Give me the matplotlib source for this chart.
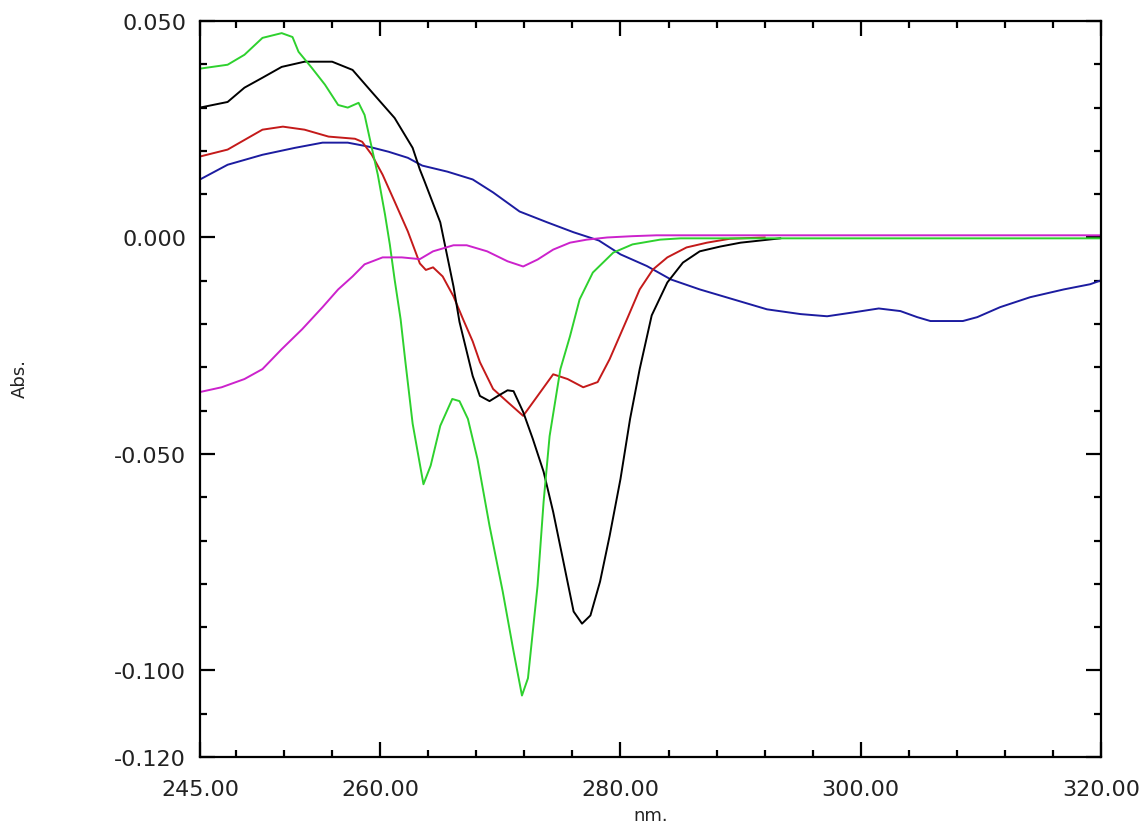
import matplotlib
matplotlib.use("Agg")
import matplotlib.pyplot as plt
from matplotlib.ticker import FixedLocator, FixedFormatter

# Difference spectra (wavelength in nm, absorbance)
black_wl = [245.0, 247.3, 248.7, 250.2, 251.8, 253.7, 256.0, 257.7, 259.3, 261.2,
            262.7, 263.3, 263.7, 265.0, 266.1, 266.6, 267.7, 268.3, 269.1, 269.8,
            270.6, 271.1, 271.9, 272.7, 273.6, 274.4, 275.2, 276.1, 276.8, 277.5,
            278.3, 279.1, 280.0, 280.8, 281.6, 282.6, 283.9, 285.2, 286.6, 288.3,
            290.0, 291.0, 293.3]
black_abs = [0.0300, 0.0313, 0.0346, 0.0369, 0.0394, 0.0406, 0.0406, 0.0387, 0.0336, 0.0276,
             0.0207, 0.0157, 0.0129, 0.0035, -0.0113, -0.0195, -0.0320, -0.0366, -0.0378, -0.0366,
             -0.0353, -0.0355, -0.0403, -0.0465, -0.0541, -0.0634, -0.0742, -0.0864, -0.0892, -0.0873,
             -0.0795, -0.0689, -0.0558, -0.0419, -0.0304, -0.0180, -0.0104, -0.0058, -0.0032, -0.0021,
             -0.0012, -0.0009, -0.0002]

red_wl = [245.0, 247.3, 249.0, 250.2, 251.9, 253.7, 255.7, 257.9, 258.5, 259.3,
          260.2, 261.2, 262.3, 263.3, 263.8, 264.4, 265.2, 266.1, 266.9, 267.7,
          268.3, 269.4, 270.6, 271.9, 273.1, 274.4, 275.6, 276.9, 278.1, 279.1,
          280.6, 281.6, 282.7, 283.9, 285.5, 287.2, 289.1, 292.0]
red_abs = [0.0187, 0.0203, 0.0230, 0.0249, 0.0256, 0.0249, 0.0233, 0.0228, 0.0221, 0.0191,
           0.0145, 0.0083, 0.0014, -0.0060, -0.0075, -0.0069, -0.0090, -0.0136, -0.0189, -0.0240,
           -0.0288, -0.0350, -0.0380, -0.0412, -0.0366, -0.0316, -0.0327, -0.0346, -0.0334, -0.0281,
           -0.0185, -0.0120, -0.0074, -0.0046, -0.0023, -0.0012, -0.0003, 0.0000]

green_wl = [245.0, 247.3, 248.7, 250.2, 251.8, 252.7, 253.2, 254.3, 255.4, 256.5,
            257.3, 258.2, 258.7, 259.3, 259.8, 260.4, 260.8, 261.2, 261.7, 262.1,
            262.7, 263.6, 264.2, 265.0, 266.0, 266.6, 267.3, 268.1, 269.1, 270.2,
            271.1, 271.8, 272.3, 273.1, 273.6, 274.1, 275.0, 275.8, 276.6, 277.7,
            279.4, 281.0, 283.3, 285.0, 320.0]
green_abs = [0.0390, 0.0399, 0.0422, 0.0461, 0.0472, 0.0463, 0.0429, 0.0392, 0.0353, 0.0306,
             0.0300, 0.0311, 0.0283, 0.0207, 0.0145, 0.0053, -0.0016, -0.0097, -0.0189, -0.0288,
             -0.0430, -0.0570, -0.0527, -0.0435, -0.0373, -0.0378, -0.0419, -0.0512, -0.0666, -0.0818,
             -0.0956, -0.1058, -0.1018, -0.0804, -0.0611, -0.0459, -0.0304, -0.0228, -0.0143, -0.0081,
             -0.0035, -0.0016, -0.0005, -0.0002, -0.0002]

blue_wl = [245.0, 247.3, 250.2, 252.9, 255.2, 257.3, 259.0, 260.7, 262.3, 263.5,
           265.6, 267.7, 269.4, 271.6, 273.9, 276.1, 278.2, 280.0, 282.2, 284.2,
           286.6, 289.4, 292.2, 295.0, 297.2, 299.4, 301.5, 303.3, 304.7, 305.8,
           308.5, 309.7, 311.6, 314.1, 316.9, 319.1, 320.0]
blue_abs = [0.0134, 0.0168, 0.0191, 0.0207, 0.0219, 0.0219, 0.0210, 0.0198, 0.0184, 0.0166,
            0.0152, 0.0134, 0.0104, 0.0060, 0.0035, 0.0012, -0.0007, -0.0039, -0.0066, -0.0097,
            -0.0120, -0.0143, -0.0166, -0.0177, -0.0182, -0.0173, -0.0164, -0.0170, -0.0184, -0.0193,
            -0.0193, -0.0184, -0.0161, -0.0138, -0.0120, -0.0108, -0.0099]

magenta_wl = [245.0, 246.8, 248.7, 250.2, 251.8, 253.5, 255.2, 256.5, 257.7, 258.7,
              260.2, 261.8, 263.3, 264.4, 266.1, 267.2, 268.9, 270.6, 271.9, 273.1,
              274.4, 275.8, 277.2, 278.9, 281.0, 283.0, 320.0]
magenta_abs = [-0.0357, -0.0346, -0.0327, -0.0304, -0.0258, -0.0212, -0.0161, -0.0120, -0.0090, -0.0062,
               -0.0046, -0.0046, -0.0050, -0.0032, -0.0018, -0.0018, -0.0032, -0.0055, -0.0067, -0.0051,
               -0.0028, -0.0012, -0.0005, 0.0000, 0.0003, 0.0005, 0.0005]

x_tick_values = [245, 260, 280, 300, 320]
x_tick_labels = ["245.00", "260.00", "280.00", "300.00", "320.00"]
y_tick_values = [-0.12, -0.10, -0.05, 0.0, 0.05]
y_tick_labels = ["-0.120", "-0.100", "-0.050", "0.000", "0.050"]

fig = plt.figure(figsize=(11.39, 8.28), dpi=100)
ax = fig.add_axes([200 / 1139, 70 / 828, 901 / 1139, 736 / 828])

lw = 1.4
ax.plot(blue_wl, blue_abs, color="#1c1ca0", lw=lw)
ax.plot(red_wl, red_abs, color="#c41a1a", lw=lw)
ax.plot(black_wl, black_abs, color="#000000", lw=lw)
ax.plot(green_wl, green_abs, color="#2ed12e", lw=lw)
ax.plot(magenta_wl, magenta_abs, color="#cc22cc", lw=lw)

ax.set_xlim(245, 320)
ax.set_ylim(-0.12, 0.05)

ax.xaxis.set_major_locator(FixedLocator(x_tick_values))
ax.xaxis.set_major_formatter(FixedFormatter(x_tick_labels))
ax.xaxis.set_minor_locator(FixedLocator(list(range(248, 320, 4))))
ax.yaxis.set_major_locator(FixedLocator(y_tick_values))
ax.yaxis.set_major_formatter(FixedFormatter(y_tick_labels))
ax.yaxis.set_minor_locator(FixedLocator([v / 100 for v in range(-11, 5)]))

for side in ax.spines.values():
    side.set_linewidth(1.6)
    side.set_color("black")

ax.tick_params(which="major", direction="in", length=11, width=1.6,
               top=True, right=True, labelsize=16, colors="black")
ax.tick_params(which="minor", direction="in", length=5, width=1.6,
               top=True, right=True)
ax.tick_params(axis="x", which="major", pad=16)
ax.tick_params(axis="y", which="major", pad=10)
for lab in ax.get_xticklabels() + ax.get_yticklabels():
    lab.set_color("#222222")
    lab.set_family("DejaVu Sans")

fig.text(651 / 1139, 1 - 816 / 828, "nm.", ha="center", va="center",
         fontsize=13, color="#222222", family="DejaVu Sans")
fig.text(20 / 1139, 1 - 378 / 828, "Abs.", ha="center", va="center",
         rotation=90, fontsize=13, color="#222222", family="DejaVu Sans")

fig.savefig("out.png", dpi=100, facecolor="white")
